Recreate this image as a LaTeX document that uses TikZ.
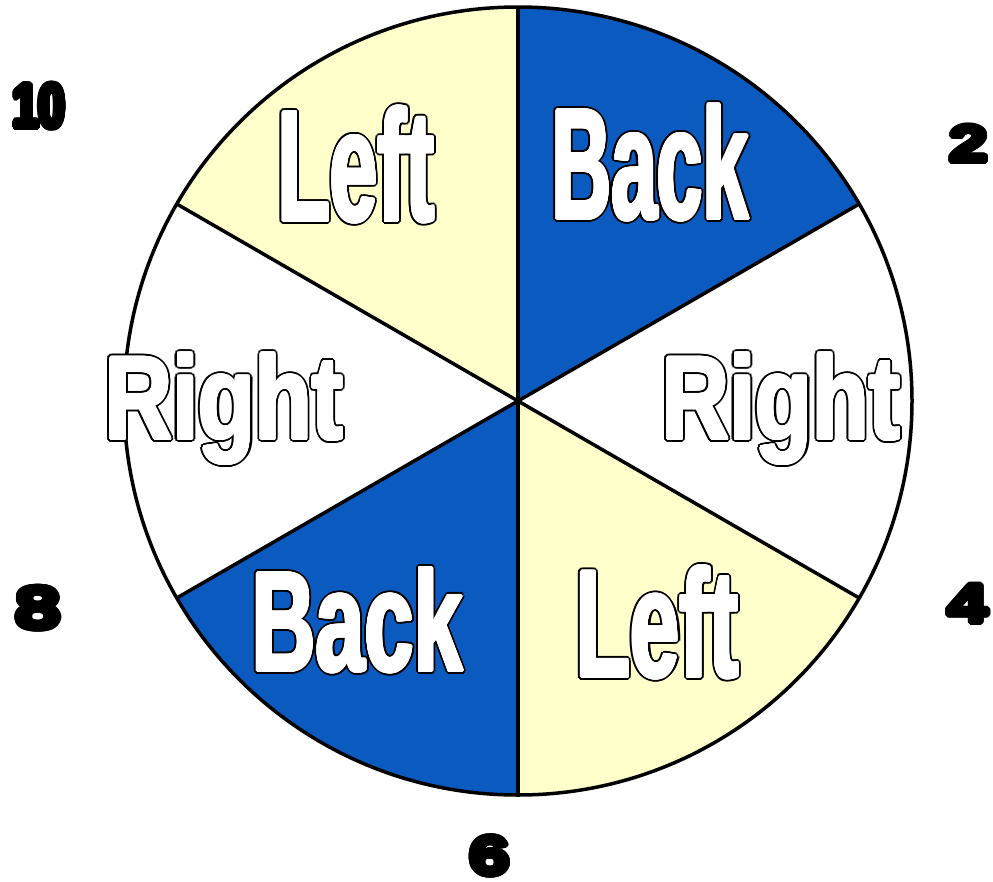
\documentclass[tikz,border=0pt]{standalone}
\usepackage{fontspec}
\setmainfont{Liberation Sans}
\usetikzlibrary{calc}
\definecolor{sblue}{RGB}{10,90,192}
\definecolor{syellow}{RGB}{255,255,204}
\newsavebox\wbox
\newcommand\olcopy[3]{\rlap{\kern#1\dimexpr#3pt\relax\raise#2\dimexpr#3pt\relax\copy\wbox}}
\newcommand\olring[1]{%
  \olcopy{1}{0}{#1}\olcopy{0.92}{0.38}{#1}\olcopy{0.71}{0.71}{#1}\olcopy{0.38}{0.92}{#1}%
  \olcopy{0}{1}{#1}\olcopy{-0.38}{0.92}{#1}\olcopy{-0.71}{0.71}{#1}\olcopy{-0.92}{0.38}{#1}%
  \olcopy{-1}{0}{#1}\olcopy{-0.92}{-0.38}{#1}\olcopy{-0.71}{-0.71}{#1}\olcopy{-0.38}{-0.92}{#1}%
  \olcopy{0}{-1}{#1}\olcopy{0.38}{-0.92}{#1}\olcopy{0.71}{-0.71}{#1}\olcopy{0.92}{-0.38}{#1}}
% #1 stretch, #2 font size, #3 outer rim, #4 fill colour, #5 text
\newcommand\outlinedword[5]{%
  \setbox\wbox\hbox{\fontspec{Liberation Sans Bold}[FakeStretch=#1]\fontsize{#2pt}{#2pt}\selectfont #5}%
  {\color{black}\olring{#3}\olring{2.4}}%
  {\color{#4}\olring{1.5}\olring{0.8}\copy\wbox}}
\tikzset{
  word/.style={inner sep=0pt, anchor=base west},
  num/.style={inner sep=0pt, anchor=center},
  rim/.style={draw=black, line width=3.5pt}
}
\begin{document}
\begin{tikzpicture}[x=1pt,y=-1pt]
\fill[white] (0,0) rectangle (993,881);
\useasboundingbox (0,0) rectangle (993,881);
\coordinate (c) at (518,401);
\def\R{394}
% sectors
\fill[sblue] (c) -- ++(-90:\R) arc[start angle=-90, end angle=-30, radius=\R] -- cycle;
\fill[syellow] (c) -- ++(-150:\R) arc[start angle=-150, end angle=-90, radius=\R] -- cycle;
\fill[sblue] (c) -- ++(90:\R) arc[start angle=90, end angle=150, radius=\R] -- cycle;
\fill[syellow] (c) -- ++(30:\R) arc[start angle=30, end angle=90, radius=\R] -- cycle;
% rim and dividers
\coordinate (p90) at ($(c)+(-90:\R)$);
\coordinate (p270) at ($(c)+(90:\R)$);
\coordinate (p30) at ($(c)+(-30:\R)$);
\coordinate (p210) at ($(c)+(150:\R)$);
\coordinate (p150) at ($(c)+(-150:\R)$);
\coordinate (p330) at ($(c)+(30:\R)$);
\draw[rim] (c) circle[radius=\R];
\draw[rim] (p90) -- (p270);
\draw[rim] (p30) -- (p210);
\draw[rim] (p150) -- (p330);
% words
\node[word] (leftTop) at (278,221) {\outlinedword{0.54}{158}{3.6}{white}{Left}};
\node[word] (backTop) at (552,219) {\outlinedword{0.52}{158}{3.6}{white}{Back}};
\node[word] (rightLeft) at (105,439) {\outlinedword{0.79}{118}{3.6}{white}{Right}};
\node[word] (rightRight) at (662,439) {\outlinedword{0.79}{118}{3.6}{white}{Right}};
\node[word] (backBottom) at (252,671) {\outlinedword{0.62}{142}{3.6}{white}{Back}};
\node[word] (leftBottom) at (576,677) {\outlinedword{0.58}{153}{3.6}{white}{Left}};
% numbers
\node[num] (n10) at (39,106) {\outlinedword{0.76}{62}{3}{black}{10}};
\node[num] (n2) at (969,144) {\outlinedword{1.36}{51}{3}{black}{2}};
\node[num] (n8) at (38,608) {\outlinedword{1.40}{59}{3}{black}{8}};
\node[num] (n4) at (968,604) {\outlinedword{1.35}{54}{3}{black}{4}};
\node[num] (n6) at (490,856) {\outlinedword{1.35}{54}{3}{black}{6}};
\end{tikzpicture}
\end{document}
